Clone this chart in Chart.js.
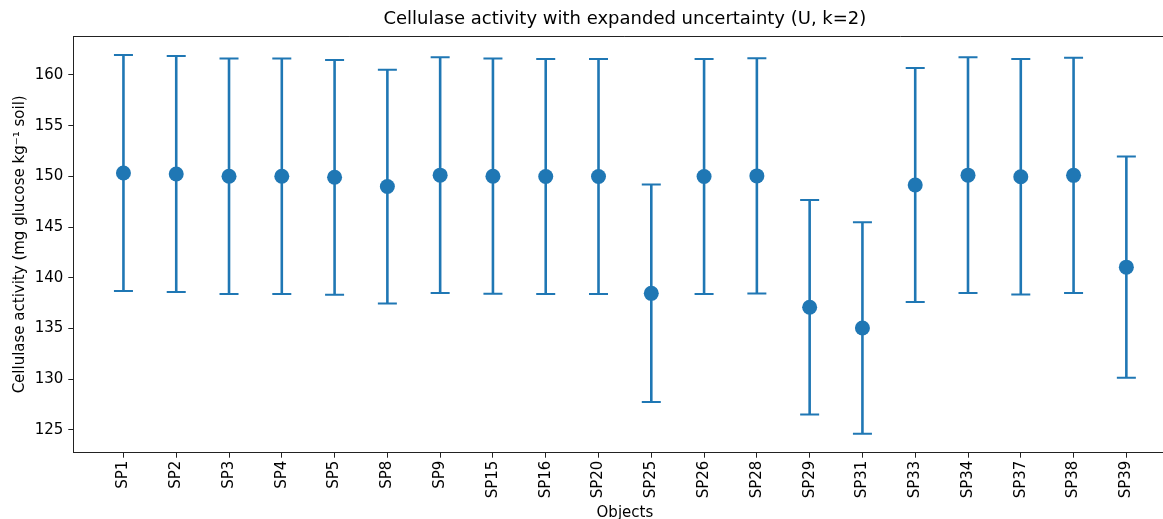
<!DOCTYPE html>
<html>
<head>
<meta charset="utf-8">
<script src="https://cdn.jsdelivr.net/npm/chart.js@4.4.1/dist/chart.umd.min.js"></script>
<style>
    body { margin: 0; overflow: hidden; background: #fff; }
    #contenedor { width: 1190px; height: 530px; }
</style>
</head>
<body>
<div id="contenedor"><canvas id="graficaCelulasa" width="1190" height="530"></canvas></div>
<script>
//DATOS DE LA GRAFICA
var muestras = ["SP1", "SP2", "SP3", "SP4", "SP5", "SP8", "SP9", "SP15", "SP16", "SP20",
    "SP25", "SP26", "SP28", "SP29", "SP31", "SP33", "SP34", "SP37", "SP38", "SP39"];
var actividad = [150.34, 150.24, 150.01, 150.01, 149.91, 149.0, 150.12, 150.02, 149.99, 149.99,
    138.47, 149.99, 150.05, 137.10, 135.05, 149.15, 150.12, 149.97, 150.10, 141.05];
var incertidumbre = [11.63, 11.63, 11.60, 11.60, 11.57, 11.52, 11.62, 11.59, 11.59, 11.59,
    10.72, 11.59, 11.59, 10.57, 10.42, 11.54, 11.62, 11.61, 11.60, 10.90];
var ticksY = [125, 130, 135, 140, 145, 150, 155, 160];

var titulo = "Cellulase activity with expanded uncertainty (U, k=2)";
var azul = "#1f77b4";
var fuente = "'DejaVu Sans', sans-serif";

//PUNTOS DE LA SERIE
var puntos = [];
for (var i = 0; i < muestras.length; i++) {
    puntos.push({ x: i, y: actividad[i] });
}

//DIBUJA LAS BARRAS DE ERROR (U, k=2), EL MARCO Y EL TITULO
var barrasError = {
    id: "barrasError",
    beforeDatasetsDraw: function (chart) {
        var ctx = chart.ctx;
        var sx = chart.scales.x;
        var sy = chart.scales.y;
        ctx.save();
        ctx.strokeStyle = azul;
        for (var i = 0; i < muestras.length; i++) {
            var px = sx.getPixelForValue(i);
            var arriba = sy.getPixelForValue(actividad[i] + incertidumbre[i]);
            var abajo = sy.getPixelForValue(actividad[i] - incertidumbre[i]);
            ctx.lineWidth = 2.6;
            ctx.beginPath();
            ctx.moveTo(px, arriba);
            ctx.lineTo(px, abajo);
            ctx.stroke();
            ctx.lineWidth = 2;
            ctx.beginPath();
            ctx.moveTo(px - 9.5, arriba);
            ctx.lineTo(px + 9.5, arriba);
            ctx.moveTo(px - 9.5, abajo);
            ctx.lineTo(px + 9.5, abajo);
            ctx.stroke();
        }
        ctx.restore();
    },
    afterDraw: function (chart) {
        var ctx = chart.ctx;
        var a = chart.chartArea;
        ctx.save();
        //MARCO SUPERIOR Y DERECHO
        ctx.strokeStyle = "#222";
        ctx.lineWidth = 1;
        ctx.beginPath();
        ctx.moveTo(a.left, a.top + 0.5);
        ctx.lineTo(a.right, a.top + 0.5);
        ctx.lineTo(a.right, a.bottom);
        ctx.stroke();
        //TITULO CENTRADO SOBRE EL AREA DE LA GRAFICA
        ctx.fillStyle = "#000";
        ctx.font = "18px " + fuente;
        ctx.textAlign = "center";
        ctx.textBaseline = "middle";
        ctx.fillText(titulo, (a.left + a.right) / 2, 19);
        ctx.restore();
    }
};

var ctx = document.getElementById("graficaCelulasa").getContext("2d");
new Chart(ctx, {
    type: "scatter",
    data: {
        datasets: [{
            data: puntos,
            backgroundColor: azul,
            borderWidth: 0,
            pointRadius: 7.5,
            pointHoverRadius: 7.5
        }]
    },
    options: {
        responsive: false,
        animation: false,
        layout: { padding: { left: 0, right: 13.5, top: 36, bottom: 0 } },
        plugins: {
            legend: { display: false },
            tooltip: { enabled: false },
            title: { display: false }
        },
        scales: {
            x: {
                type: "linear",
                min: -0.95,
                max: 19.95,
                afterBuildTicks: function (scale) {
                    scale.ticks = muestras.map(function (m, i) { return { value: i }; });
                },
                afterFit: function (scale) { scale.height = 530 - 452.7; },
                ticks: {
                    autoSkip: false,
                    minRotation: 90,
                    maxRotation: 90,
                    padding: 3,
                    color: "#000",
                    font: { family: fuente, size: 15 },
                    callback: function (v) { return muestras[v]; }
                },
                grid: { display: true, drawOnChartArea: false, drawTicks: true, tickLength: 5, color: "#222" },
                border: { display: true, color: "#222", width: 1 },
                title: {
                    display: true,
                    text: "Objects",
                    color: "#000",
                    font: { family: fuente, size: 15 },
                    padding: { top: 0, bottom: 8 }
                }
            },
            y: {
                min: 122.76,
                max: 163.84,
                afterBuildTicks: function (scale) {
                    scale.ticks = ticksY.map(function (v) { return { value: v }; });
                },
                afterFit: function (scale) { scale.width = 73.3; },
                ticks: {
                    padding: 5,
                    color: "#000",
                    font: { family: fuente, size: 15 }
                },
                grid: { display: true, drawOnChartArea: false, drawTicks: true, tickLength: 5, color: "#222" },
                border: { display: true, color: "#222", width: 1 },
                title: {
                    display: true,
                    text: "Cellulase activity (mg glucose kg\u207B\u00B9 soil)",
                    color: "#000",
                    font: { family: fuente, size: 15 },
                    padding: { top: 11, bottom: 0 }
                }
            }
        }
    },
    plugins: [barrasError]
});
</script>
</body>
</html>
